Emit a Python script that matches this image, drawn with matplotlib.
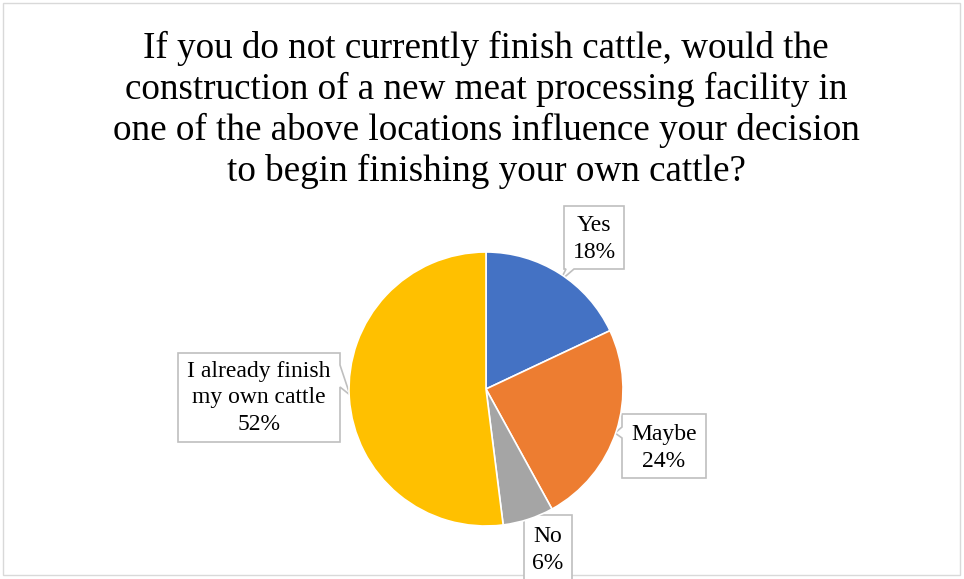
import matplotlib.pyplot as plt
from matplotlib.patches import Polygon, Rectangle

# data
labels = ['Yes', 'Maybe', 'No', 'I already finish\nmy own cattle']
shares = [18, 24, 6, 52]
colors = ['#4472C4', '#ED7D31', '#A5A5A5', '#FFC000']
title = ('If you do not currently finish cattle, would the\n'
         'construction of a new meat processing facility in\n'
         'one of the above locations influence your decision\n'
         'to begin finishing your own cattle?')

W, H = 964, 579
plt.rcParams['font.family'] = ['Liberation Serif', 'DejaVu Serif']
fig = plt.figure(figsize=(W / 100, H / 100), dpi=100)

# overlay axes in pixel coordinates (y down)
bg = fig.add_axes([0, 0, 1, 1])
bg.set_xlim(0, W)
bg.set_ylim(H, 0)
bg.axis('off')
bg.add_patch(Rectangle((3, 3), W - 7, H - 7, fill=False, ec='#D9D9D9', lw=1))

bg.text(486, 110, title, ha='center', va='center', fontsize=26.7,
        linespacing=1.21, color='#000000')

# pie
cx, cy, r = 486, 389, 137
ax = fig.add_axes([(cx - r) / W, (H - cy - r) / H, 2 * r / W, 2 * r / H])
ax.pie(shares, colors=colors, startangle=90, counterclock=False,
       wedgeprops=dict(edgecolor='white', linewidth=1.2))
ax.set_xlim(-1, 1)
ax.set_ylim(-1, 1)
ax.set_aspect('auto')

# callout boxes: outline polygon (with pointer) and text centre
callouts = [
    ([(564, 206), (624, 206), (624, 269), (574, 269), (560, 281), (566, 269), (564, 269)], (594, 239)),
    ([(622, 414), (706, 414), (706, 478), (622, 478), (622, 438), (615, 433), (622, 427)], (664, 448)),
    ([(524, 515), (572, 515), (572, 600), (524, 600)], (548, 550)),
    ([(178, 353), (340, 353), (340, 365), (350, 395), (340, 387), (340, 442), (178, 442)], (259, 398)),
]
for lab, val, (pts, (tx, ty)) in zip(labels, shares, callouts):
    bg.add_patch(Polygon(pts, closed=True, fc='white', ec='#BFBFBF', lw=1.2, zorder=3))
    bg.text(tx, ty, f'{lab}\n{val}%', ha='center', va='center', fontsize=17,
            linespacing=1.35, zorder=4)

fig.savefig('out.png', dpi=100)
